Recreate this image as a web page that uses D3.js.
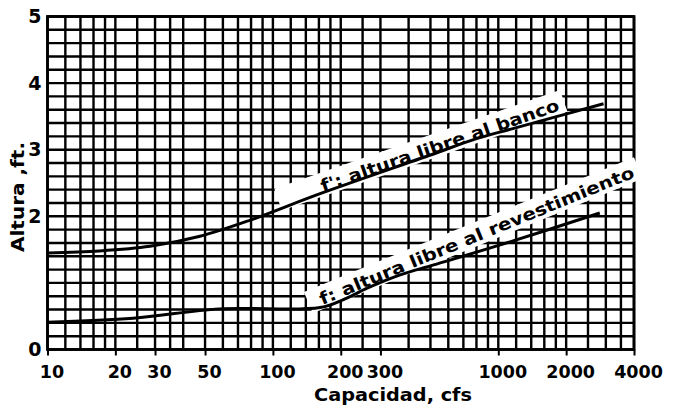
<!DOCTYPE html>
<html><head><meta charset="utf-8">
<script src="https://cdn.jsdelivr.net/npm/d3@7"></script>
<style>
html,body{margin:0;padding:0;background:#fff;}
svg{display:block;background:#fff;}
text{font-family:"DejaVu Sans",sans-serif;font-weight:bold;fill:#000;}
</style></head><body>
<svg id="chart" width="674" height="407"></svg>
<script>
// ---- data ----
const bankCfs = [10, 17, 28.5, 47.5, 79, 162, 500, 807, 1170, 2930];
const bankFt  = [1.45, 1.48, 1.55, 1.70, 1.94, 2.34, 2.92, 3.17, 3.32, 3.69];
const liningCfs = [10, 24, 58, 162, 209, 262, 367, 517, 1020, 2820];
const liningFt  = [0.41, 0.47, 0.61, 0.63, 0.76, 0.92, 1.12, 1.27, 1.57, 2.05];

const xTickValues = [10, 20, 30, 50, 100, 200, 300, 1000, 2000, 4000];
const xGridValues = [10,12,14,16,18,20,25,30,35,40,50,60,70,80,90,100,120,140,160,180,200,250,300,400,500,600,700,800,900,1000,1200,1400,1600,1800,2000,2500,3000,3500,4000];
const yTickValues = [0, 2, 3, 4, 5];
const yGridValues = [0,0.2,0.4,0.6,0.8,1,1.2,1.4,1.6,1.8,2,2.2,2.4,2.6,2.8,3,3.2,3.4,3.6,3.8,4,4.2,4.4,4.6,4.8,5];

const labelTexts = ["f': altura libre al banco", "f: altura libre al revestimiento"];
const labelStart = [[167, 2.365], [165.6, 0.668]];
const labelEnd   = [[1888, 3.596], [4064, 2.59]];

const xTitle = "Capacidad, cfs";
const yTitle = "Altura ,ft.";

// ---- chart ----
const svg = d3.select("#chart");
const W = 674, H = 407;
const x = d3.scaleLog().domain([10, 4000]).range([47.5, 634]);
const y = d3.scaleLinear().domain([0, 5]).range([349.5, 16.5]);

svg.append("rect").attr("width", W).attr("height", H).attr("fill", "#fff");

const grid = svg.append("g").attr("stroke", "#000").attr("stroke-width", 2.4);
grid.selectAll("line.v").data(xGridValues).join("line")
  .attr("class", "v")
  .attr("x1", d => x(d)).attr("x2", d => x(d))
  .attr("y1", y(0)).attr("y2", y(5));
grid.selectAll("line.h").data(yGridValues).join("line")
  .attr("class", "h")
  .attr("x1", x(10)).attr("x2", x(4000))
  .attr("y1", d => y(d)).attr("y2", d => y(d));

svg.append("rect")
  .attr("x", x(10)).attr("y", y(5))
  .attr("width", x(4000) - x(10)).attr("height", y(0) - y(5))
  .attr("fill", "none").attr("stroke", "#000").attr("stroke-width", 2.8);

// x axis
const xAxis = d3.axisBottom(x).tickValues(xTickValues).tickFormat(d => String(d)).tickSize(6).tickPadding(6);
const gx = svg.append("g").attr("transform", `translate(0,${y(0)})`).call(xAxis);
gx.select(".domain").remove();
gx.selectAll(".tick line").attr("stroke", "#000").attr("stroke-width", 2);
gx.selectAll(".tick text").attr("font-size", 17.5).attr("dx", 4).attr("dy", "0.95em")
  .style("font-family", '"DejaVu Sans",sans-serif').style("font-weight", "bold");

// y axis
const yAxis = d3.axisLeft(y).tickValues(yTickValues).tickFormat(d => String(d)).tickSize(0).tickPadding(6);
const gy = svg.append("g").attr("transform", `translate(${x(10)},0)`).call(yAxis);
gy.select(".domain").remove();
gy.selectAll(".tick text").attr("font-size", 19)
  .style("font-family", '"DejaVu Sans",sans-serif').style("font-weight", "bold");

// titles
svg.append("text").attr("x", 393).attr("y", 401).attr("text-anchor", "middle")
  .attr("font-size", 17).attr("textLength", 158).attr("lengthAdjust", "spacingAndGlyphs").text(xTitle);
svg.append("text").attr("transform", "translate(24,197) rotate(-90)").attr("text-anchor", "middle")
  .attr("font-size", 17).attr("textLength", 110).attr("lengthAdjust", "spacingAndGlyphs").text(yTitle);

// curve labels
labelTexts.forEach((t, i) => {
  const p0 = [x(labelStart[i][0]), y(labelStart[i][1])];
  const p1 = [x(labelEnd[i][0]), y(labelEnd[i][1])];
  const dx = p1[0] - p0[0], dy = p1[1] - p0[1];
  const ang = Math.atan2(dy, dx) * 180 / Math.PI;
  const len = Math.hypot(dx, dy);
  const padL = i === 0 ? 45 : 12;
  const g = svg.append("g").attr("transform", `translate(${p0[0]},${p0[1]}) rotate(${ang})`);
  g.append("rect").attr("x", -padL).attr("y", -19).attr("width", len + padL + 6).attr("height", 23)
    .attr("fill", "#fff");
  g.append("text").attr("x", 0).attr("y", 0).attr("font-size", 17)
    .attr("textLength", len).attr("lengthAdjust", "spacingAndGlyphs").text(t);
});

// data lines
const line = d3.line().x(d => x(d[0])).y(d => y(d[1])).curve(d3.curveCatmullRom.alpha(0.5));
svg.append("path").datum(bankCfs.map((c, i) => [c, bankFt[i]]))
  .attr("d", line).attr("fill", "none").attr("stroke", "#000").attr("stroke-width", 3);
svg.append("path").datum(liningCfs.map((c, i) => [c, liningFt[i]]))
  .attr("d", line).attr("fill", "none").attr("stroke", "#000").attr("stroke-width", 3);
</script>
</body></html>
